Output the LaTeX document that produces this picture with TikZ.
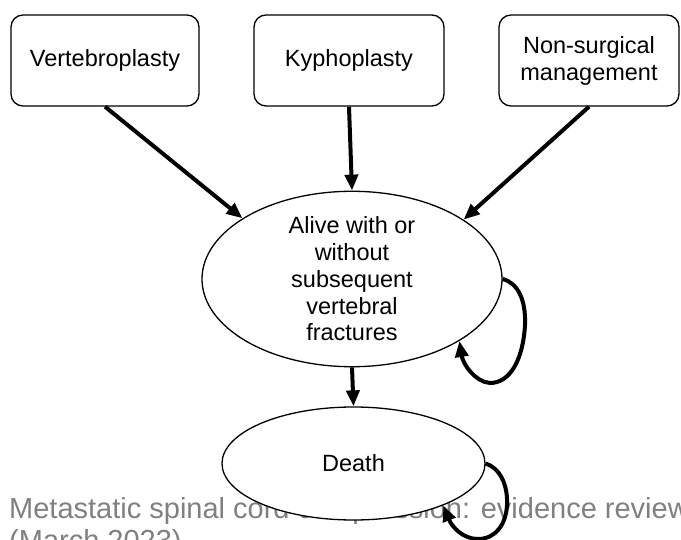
\documentclass[tikz,border=0pt]{standalone}
\usepackage{fontspec}
\setmainfont{Liberation Sans}
\usetikzlibrary{arrows.meta,shapes.geometric}
\definecolor{captiongrey}{RGB}{128,128,128}
\begin{document}
\begin{tikzpicture}[x=1pt,y=-1pt,
  boxnode/.style={draw, rounded corners=12pt, line width=1.3pt, minimum height=91pt, inner sep=0pt, align=center, font=\fontsize{23.5}{27}\selectfont},
  statenode/.style={draw, ellipse, fill=white, line width=1.3pt, inner sep=0pt, align=center, font=\fontsize{23.5}{26.7}\selectfont},
  flow/.style={line width=4pt, -{Triangle[length=16pt,width=13pt]}},
  captext/.style={anchor=base west, inner sep=0pt, text=captiongrey, font=\fontsize{29}{32}\selectfont}
  ]
\useasboundingbox (0,0) rectangle (681,540);
% caption (behind the diagram)
\node[captext] (cap1) at (9,518) {Metastatic spinal cord compression: evidence review};
\node[captext] (cap2) at (9,550) {(March 2023)};
% top boxes
\node[boxnode, minimum width=188pt] (V) at (105,60.5) {Vertebroplasty};
\node[boxnode, minimum width=190pt] (K) at (349,60.5) {Kyphoplasty};
\node[boxnode, minimum width=180pt] (N) at (589,60.5) {Non-surgical\\management};
% states
\node[statenode, minimum width=300pt, minimum height=162pt] (A) at (352,279) {Alive with or\\without\\subsequent\\vertebral\\fractures};
\node[statenode, minimum width=263pt, minimum height=113pt] (D) at (353.5,463.5) {Death};
% connectors
\draw[flow] (V.south) -- (A.151.5);
\draw[flow] (K.south) -- (A.north);
\draw[flow] (N.south) -- (A.28);
\draw[flow] (A.south) -- (D.north);
\draw[flow] (A.0) .. controls (518,283) and (526,300) .. (525,325)
  .. controls (523,360) and (510,383) .. (490,383)
  .. controls (475,382) and (463,364) .. (A.-30);
\draw[flow] (D.0) .. controls (500,468) and (508,485) .. (507,505)
  .. controls (506,525) and (495,539) .. (478,539)
  .. controls (463,539) and (452,527) .. (D.-25);
\end{tikzpicture}
\end{document}
